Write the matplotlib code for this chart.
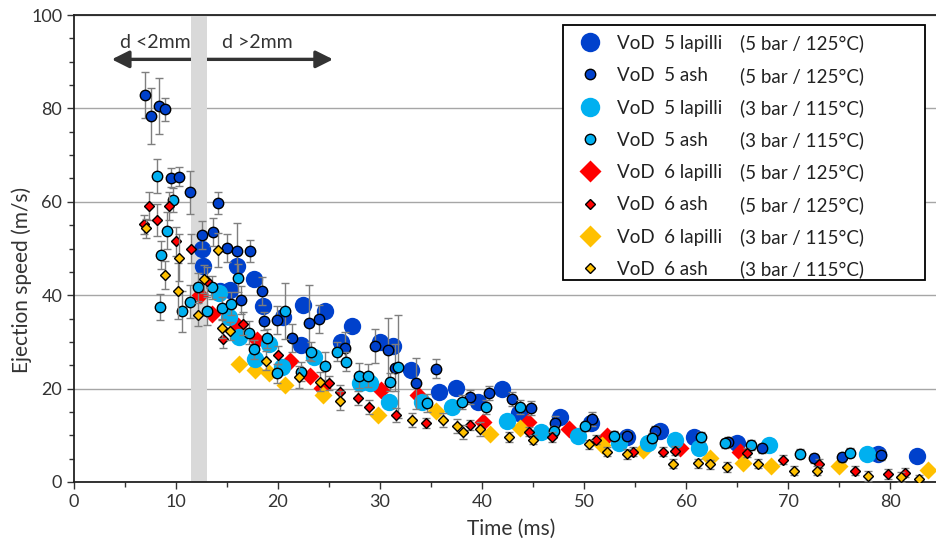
import matplotlib
matplotlib.use("Agg")
import matplotlib.pyplot as plt
from matplotlib.lines import Line2D
from matplotlib.patches import Rectangle
from matplotlib.ticker import MultipleLocator

plt.rcParams['font.family'] = ['Lato', 'DejaVu Sans']

# ---- data -------------------------------------------------------------
# VoD 5 lapilli (5 bar / 125 °C)
lap55_t = [12.5, 12.6, 14.3, 15.3, 16.0, 17.6, 18.5, 20.5, 22.4, 22.3, 24.6, 26.2, 27.3, 30.0,
           31.3, 33.0, 35.8, 37.4, 39.6, 42.0, 43.6, 47.6, 50.7, 54.2, 57.4, 60.8, 65.0, 78.8, 82.6]
lap55_v = [50.0, 46.3, 41.0, 41.1, 46.3, 43.5, 37.7, 35.4, 38.0, 29.3, 36.7, 30.0, 33.3, 30.0,
           29.2, 24.0, 19.2, 20.1, 17.2, 20.0, 14.7, 14.0, 12.6, 9.6, 11.0, 9.6, 8.3, 5.9, 5.6]

# VoD 5 ash (5 bar / 125 °C)
ash55_t = [7.0, 7.5, 8.3, 8.9, 9.5, 10.3, 11.4, 12.5, 13.6, 14.1, 15.0, 16.0, 16.4, 17.3, 18.4,
           18.6, 19.9, 21.4, 23.0, 24.0, 26.6, 29.5, 30.8, 31.5, 33.5, 35.5, 38.8, 40.7, 42.9,
           44.8, 47.2, 50.8, 54.2, 57.0, 64.1, 67.4, 72.5, 75.3, 79.1]
ash55_v = [82.9, 78.4, 80.6, 79.8, 65.2, 65.4, 62.0, 52.8, 53.6, 59.7, 50.2, 49.5, 39.0, 49.5, 41.0,
           34.5, 34.6, 30.8, 34.1, 34.8, 28.8, 29.1, 28.2, 24.5, 21.1, 24.3, 18.3, 19.1, 17.8,
           15.8, 12.7, 13.5, 9.9, 11.0, 8.6, 7.2, 5.1, 5.3, 5.8]
ash55_e = [5.0, 6.0, 6.0, 2.5, 2.0, 2.0, 4.6, 3.0, 3.0, 2.4, 3.0, 6.0, 3.0, 2.3, 3.0,
           2.0, 3.0, 3.0, 8.0, 3.0, 3.4, 3.6, 7.0, 5.0, 5.5, 2.0, 1.5, 1.5, 1.5,
           1.5, 1.5, 1.5, 1.0, 1.0, 1.0, 1.0, 1.0, 1.0, 1.0]

# VoD 5 lapilli (3 bar / 115 °C)
lap53_t = [14.2, 15.2, 16.2, 17.7, 19.1, 20.4, 23.5, 28.0, 29.0, 30.9, 34.1, 37.1, 42.4, 45.8,
           49.4, 53.4, 56.3, 58.9, 61.3, 68.1, 77.7]
lap53_v = [40.4, 35.4, 31.0, 26.3, 29.5, 24.7, 26.8, 21.1, 21.1, 17.2, 17.2, 16.1, 13.0, 10.7,
           9.8, 8.3, 8.4, 9.0, 7.2, 7.9, 6.0]

# VoD 5 ash (3 bar / 115 °C)
ash53_t = [8.1, 8.4, 8.5, 9.1, 9.7, 10.6, 11.4, 12.2, 13.0, 13.5, 14.5, 15.4, 16.1, 17.2, 17.6,
           18.9, 19.9, 20.7, 22.3, 23.2, 24.6, 25.8, 26.7, 27.9, 28.8, 31.0, 31.8, 34.6, 38.0,
           40.4, 43.7, 47.1, 50.1, 52.9, 56.7, 61.5, 63.8, 66.4, 71.2, 76.1]
ash53_v = [65.5, 37.4, 48.6, 53.8, 60.4, 36.6, 38.6, 41.7, 36.7, 41.7, 37.2, 38.2, 43.7, 32.0, 28.4,
           30.8, 23.3, 36.6, 23.6, 27.9, 24.8, 27.9, 25.8, 22.8, 22.8, 21.4, 24.7, 16.9, 17.2,
           16.1, 16.1, 10.9, 11.9, 9.9, 9.4, 9.6, 8.3, 7.9, 6.1, 6.3]
ash53_e = [3.7, 2.8, 3.0, 4.0, 2.5, 4.4, 3.5, 3.0, 3.0, 2.5, 2.5, 2.5, 3.0, 2.5, 2.0,
           2.0, 2.0, 6.0, 2.0, 2.0, 3.0, 2.0, 2.0, 2.7, 2.5, 2.0, 11.0, 2.0, 1.5,
           1.5, 1.5, 1.0, 1.0, 1.0, 1.0, 1.0, 1.0, 1.0, 1.0, 1.0]

# VoD 6 lapilli (5 bar / 125 °C)
lap65_t = [12.4, 13.5, 16.1, 17.9, 21.2, 23.1, 24.3, 30.1, 33.7, 40.1, 44.5, 48.5, 52.2, 59.4, 65.3]
lap65_v = [40.0, 36.0, 33.3, 30.4, 26.0, 22.8, 20.1, 19.6, 18.6, 12.9, 12.8, 11.4, 9.8, 7.2, 6.5]

# VoD 6 ash (5 bar / 125 °C)
ash65_t = [6.9, 7.4, 8.1, 9.3, 10.0, 11.5, 13.0, 14.6, 16.6, 20.0, 25.0, 26.1, 27.8, 28.9, 31.6,
           34.5, 38.8, 44.6, 46.9, 51.2, 54.8, 57.7, 58.9, 66.0, 69.5, 73.0, 76.6, 79.8, 81.5]
ash65_v = [55.2, 59.1, 56.1, 59.1, 51.5, 50.0, 43.0, 30.7, 33.9, 27.2, 21.1, 19.3, 18.0, 16.1, 14.3,
           12.6, 12.2, 10.8, 9.6, 9.1, 6.5, 6.5, 6.7, 6.3, 4.8, 3.9, 2.4, 1.7, 2.0]
ash65_e = [2.0, 3.0, 3.5, 3.0, 3.0, 3.0, 3.0, 2.0, 2.5, 2.0, 1.5, 1.5, 1.5, 1.5, 1.5,
           1.0, 1.0, 1.0, 1.0, 1.0, 1.0, 1.0, 1.0, 1.0, 1.0, 1.0, 1.0, 1.0, 1.0]

# VoD 6 lapilli (3 bar / 115 °C)
lap63_t = [16.2, 17.7, 19.1, 20.7, 24.4, 29.8, 35.5, 40.8, 43.7, 51.8, 55.8, 62.3, 65.6, 68.3, 75.0, 83.7]
lap63_v = [25.3, 24.0, 23.4, 20.8, 18.6, 14.3, 15.2, 10.3, 11.6, 8.0, 6.9, 5.1, 4.0, 3.5, 3.4, 2.6]

# VoD 6 ash (3 bar / 115 °C)
ash63_t = [7.1, 8.9, 10.2, 10.3, 12.2, 12.7, 14.1, 14.5, 15.3, 18.8, 22.1, 24.1, 26.1, 33.1, 36.2,
           37.5, 38.1, 39.8, 42.6, 45.0, 50.5, 52.2, 54.2, 58.7, 61.2, 62.3, 64.0, 67.1, 70.6,
           72.8, 77.8, 81.1, 82.8]
ash63_v = [54.3, 44.4, 41.0, 48.0, 35.8, 43.5, 49.7, 32.9, 32.3, 26.0, 22.5, 21.5, 17.4, 13.3, 13.2,
           12.0, 10.8, 11.3, 9.6, 9.1, 8.1, 6.5, 6.0, 3.9, 4.0, 3.8, 3.2, 3.9, 2.4,
           2.4, 1.3, 1.1, 0.6]
ash63_e = [2.0, 3.0, 6.0, 5.0, 2.5, 3.0, 3.6, 2.0, 2.0, 2.0, 2.3, 2.0, 2.0, 1.5, 1.5,
           1.5, 1.5, 1.5, 1.0, 1.0, 1.0, 1.0, 1.0, 1.0, 1.0, 1.0, 1.0, 1.0, 1.0,
           1.0, 1.0, 1.0, 1.0]

names = ["VoD  5 lapilli", "VoD  5 ash", "VoD  5 lapilli", "VoD  5 ash",
         "VoD  6 lapilli", "VoD  6 ash", "VoD  6 lapilli", "VoD  6 ash"]
conditions = ["(5 bar / 125°C)", "(5 bar / 125°C)", "(3 bar / 115°C)", "(3 bar / 115°C)",
              "(5 bar / 125°C)", "(5 bar / 125°C)", "(3 bar / 115°C)", "(3 bar / 115°C)"]

DARK_BLUE = "#0041CC"
LIGHT_BLUE = "#00B0F0"
RED = "#FF0000"
GOLD = "#FFC000"
ERR_GREY = "#7f7f7f"
TEXT = "#333333"

W, H = 936, 546

# ---- figure -----------------------------------------------------------
fig = plt.figure(figsize=(W / 100, H / 100), dpi=100)
ax = fig.add_axes([74 / W, 1 - 482 / H, 1 - 74 / W, (482 - 15) / H])

ax.set_xlim(0, 84.5)
ax.set_ylim(0, 100)

# transition band between fine and coarse particles
ax.axvspan(11.5, 13.0, color="#d9d9d9", zorder=1.5, lw=0)

# size-range arrows
arrow_kw = dict(arrowstyle="-|>", color="#333333", lw=2.4, mutation_scale=26, shrinkA=0, shrinkB=0)
ax.annotate("", xy=(3.7, 90.5), xytext=(11.5, 90.5), arrowprops=arrow_kw, zorder=1)
ax.annotate("", xy=(25.4, 90.5), xytext=(13.0, 90.5), arrowprops=arrow_kw, zorder=1)
ax.text(8.0, 94.2, "d <2mm", ha="center", va="center", fontsize=14, color=TEXT)
ax.text(18.0, 94.2, "d >2mm", ha="center", va="center", fontsize=14, color=TEXT)

# lapilli (large, no outline)
lap_ms_c = 12.5
lap_ms_d = 9.5
ax.plot(lap55_t, lap55_v, "o", ms=lap_ms_c, color=DARK_BLUE, mec="none", zorder=3)
ax.plot(lap65_t, lap65_v, "D", ms=lap_ms_d, color=RED, mec="none", zorder=3.1)
ax.plot(lap63_t, lap63_v, "D", ms=lap_ms_d, color=GOLD, mec="none", zorder=3.2)
ax.plot(lap53_t, lap53_v, "o", ms=lap_ms_c, color=LIGHT_BLUE, mec="none", zorder=3.3)

# ash (small, black outline, with error bars)
eb_kw = dict(fmt="none", ecolor=ERR_GREY, elinewidth=1.0, capsize=3, capthick=1.0)
ash_sets = [
    (ash55_t, ash55_v, ash55_e, "o", 7.5, DARK_BLUE),
    (ash53_t, ash53_v, ash53_e, "o", 7.5, LIGHT_BLUE),
    (ash65_t, ash65_v, ash65_e, "D", 5.0, RED),
    (ash63_t, ash63_v, ash63_e, "D", 5.0, GOLD),
]
for i, (t, v, e, m, ms, c) in enumerate(ash_sets):
    ax.errorbar(t, v, yerr=e, zorder=4 + i * 0.1, **eb_kw)
    ax.plot(t, v, m, ms=ms, color=c, mec="black", mew=1.0, zorder=4.05 + i * 0.1)

# axes styling
ax.spines["right"].set_visible(False)
for s in ("left", "bottom", "top"):
    ax.spines[s].set_color("#222222")
    ax.spines[s].set_linewidth(1.3)
ax.xaxis.set_major_locator(MultipleLocator(10))
ax.xaxis.set_minor_locator(MultipleLocator(5))
ax.yaxis.set_major_locator(MultipleLocator(20))
ax.yaxis.set_minor_locator(MultipleLocator(5))
ax.tick_params(which="major", length=5, width=1, color="#333333", labelsize=13,
               labelcolor=TEXT)
ax.tick_params(which="minor", length=3.5, width=1, color="#333333")
ax.grid(axis="y", which="major", color="#a6a6a6", lw=1.0, zorder=0)
ax.set_axisbelow(True)

ax.set_xlabel("Time (ms)", fontsize=15, color=TEXT, va="center")
ax.xaxis.set_label_coords((511 - 74) / (W - 74), -(529 - 482) / (482 - 15))
ax.set_ylabel("Ejection speed (m/s)", fontsize=15, color=TEXT, va="center")
ax.yaxis.set_label_coords(-(74 - 22) / (W - 74), (482 - 280) / (482 - 15))

# ---- legend box (drawn row by row in figure pixels) ------------------
legend_handles = [
    dict(marker="o", ms=14, color=DARK_BLUE, mec="none"),
    dict(marker="o", ms=7.5, color=DARK_BLUE, mec="black", mew=1.0),
    dict(marker="o", ms=14, color=LIGHT_BLUE, mec="none"),
    dict(marker="o", ms=7.5, color=LIGHT_BLUE, mec="black", mew=1.0),
    dict(marker="D", ms=11, color=RED, mec="none"),
    dict(marker="D", ms=5.0, color=RED, mec="black", mew=1.0),
    dict(marker="D", ms=11, color=GOLD, mec="none"),
    dict(marker="D", ms=5.0, color=GOLD, mec="black", mew=1.0),
]

frame = Rectangle((563 / W, 1 - 280 / H), (925 - 563) / W, (280 - 25) / H,
                  transform=fig.transFigure, facecolor="white", edgecolor="black",
                  lw=1.3, zorder=4)
fig.add_artist(frame)

row0, pitch = 42.0, 32.3
for i, (style, name, cond) in enumerate(zip(legend_handles, names, conditions)):
    yf = 1 - (row0 + i * pitch) / H
    fig.add_artist(Line2D([590 / W], [yf], transform=fig.transFigure, ls="none",
                          zorder=5, **style))
    fig.text(617 / W, yf, name, ha="left", va="center_baseline", fontsize=13.5,
             color="#222222", zorder=5)
    fig.text(740 / W, yf, cond, ha="left", va="center_baseline", fontsize=13.5,
             color="#222222", zorder=5)

fig.savefig("out.png", dpi=100)
